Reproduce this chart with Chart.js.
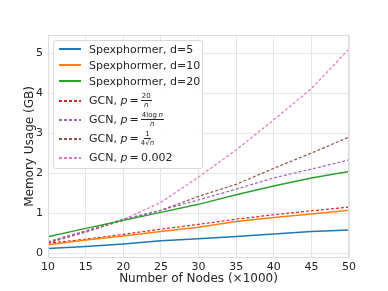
<!DOCTYPE html>
<html>
<head>
<meta charset="utf-8">
<script src="https://cdn.jsdelivr.net/npm/chart.js@4"></script>
<style>
  body { margin: 0; background: #fff; }
  #wrap { position: relative; width: 388px; height: 291px; }
  #legend {
    position: absolute; left: 53px; top: 40px; width: 148px;
    padding: 0 0 1px 0;
    border: 1px solid #d9d9d9; border-radius: 3px; background: rgba(255,255,255,0.85);
    font-family: "DejaVu Sans", sans-serif; font-size: 11px; color: #262626;
  }
  .row { display: flex; align-items: center; height: 16px; }
  .row.tall { height: 19px; }
  .row.first-tall { margin-top: 2px; }
  .swatch { width: 22px; height: 2px; margin: 0 8px 0 5px; }
  .frac { display: inline-flex; flex-direction: column; align-items: center; vertical-align: middle; font-size: 7px; line-height: 8px; margin-left: 2px; }
  .frac .num { border-bottom: 1px solid #262626; padding: 0 1px; }
  i { font-family: "DejaVu Sans", sans-serif; font-style: italic; }
</style>
</head>
<body>
<div id="wrap">
  <canvas id="chart" width="388" height="291"></canvas>
  <div id="legend"></div>
</div>
<script>
// x values (thousands of nodes)
const nodes = [10, 15, 20, 25, 30, 35, 40, 45, 50];

// memory usage in GB
const spexD5  = [0.12, 0.17, 0.23, 0.31, 0.36, 0.42, 0.48, 0.54, 0.58];
const spexD10 = [0.21, 0.33, 0.43, 0.54, 0.65, 0.79, 0.89, 0.98, 1.07];
const spexD20 = [0.41, 0.62, 0.82, 1.02, 1.22, 1.46, 1.68, 1.88, 2.04];
const gcnA = [0.25, 0.35, 0.47, 0.6, 0.72, 0.85, 0.96, 1.06, 1.15];
const gcnB = [0.29, 0.56, 0.85, 1.07, 1.33, 1.6, 1.88, 2.1, 2.33];
const gcnC = [0.27, 0.54, 0.82, 1.07, 1.42, 1.72, 2.12, 2.5, 2.9];
const gcnD = [0.25, 0.52, 0.84, 1.27, 1.9, 2.58, 3.33, 4.11, 5.1];

const xTicks = [10, 15, 20, 25, 30, 35, 40, 45, 50];
const yTicks = [0, 1, 2, 3, 4, 5];

const series = [
  { label: 'Spexphormer, d=5', html: 'Spexphormer, d=5', data: spexD5, color: '#1f77b4', dash: false },
  { label: 'Spexphormer, d=10', html: 'Spexphormer, d=10', data: spexD10, color: '#ff7f0e', dash: false },
  { label: 'Spexphormer, d=20', html: 'Spexphormer, d=20', data: spexD20, color: '#2ca02c', dash: false },
  { label: 'GCN, p=20/n', html: 'GCN, <i>p</i>&thinsp;=<span class="frac"><span class="num">20</span><span><i>n</i></span></span>', data: gcnA, color: '#d62728', dash: true },
  { label: 'GCN, p=4log n/n', html: 'GCN, <i>p</i>&thinsp;=<span class="frac"><span class="num">4log&thinsp;<i>n</i></span><span><i>n</i></span></span>', data: gcnB, color: '#9467bd', dash: true },
  { label: 'GCN, p=1/(4√n)', html: 'GCN, <i>p</i>&thinsp;=<span class="frac"><span class="num">1</span><span>4√<i>n</i></span></span>', data: gcnC, color: '#8c564b', dash: true },
  { label: 'GCN, p=0.002', html: 'GCN, <i>p</i>&thinsp;=&thinsp;0.002', data: gcnD, color: '#e377c2', dash: true }
];

const frame = {
  id: 'frame',
  afterDraw(chart) {
    const a = chart.chartArea;
    const c = chart.ctx;
    c.save();
    c.strokeStyle = '#dcdcdc';
    c.lineWidth = 1;
    c.strokeRect(a.left + 0.5, a.top + 0.5, a.right - a.left - 1, a.bottom - a.top - 1);
    c.restore();
  }
};

const font = { family: '"DejaVu Sans", sans-serif', size: 11 };

new Chart(document.getElementById('chart').getContext('2d'), {
  type: 'line',
  data: {
    datasets: series.map(s => ({
      label: s.label,
      data: s.data.map((v, i) => ({ x: nodes[i], y: v })),
      borderColor: s.color,
      borderWidth: s.dash ? 1.2 : 1.5,
      borderDash: s.dash ? [3, 2] : [],
      pointRadius: 0,
      tension: 0,
      fill: false
    }))
  },
  options: {
    responsive: false,
    animation: false,
    layout: { padding: { top: 35, right: 39, left: 0, bottom: 0 } },
    plugins: { legend: { display: false }, tooltip: { enabled: false } },
    scales: {
      x: {
        type: 'linear', min: 10, max: 50,
        afterBuildTicks: s => { s.ticks = xTicks.map(v => ({ value: v })); },
        afterFit: s => { s.height = 33; },
        grid: { color: '#e6e6e6', drawTicks: false },
        border: { display: false },
        ticks: { color: '#262626', font: font, padding: 3, maxRotation: 0 },
        title: { display: true, text: 'Number of Nodes (×1000)', color: '#262626', font: { family: font.family, size: 12 }, padding: { top: 0, bottom: 5 } }
      },
      y: {
        type: 'linear', min: -0.12, max: 5.45,
        afterBuildTicks: s => { s.ticks = yTicks.map(v => ({ value: v })); },
        afterFit: s => { s.width = 48; },
        grid: { color: '#e6e6e6', drawTicks: false },
        border: { display: false },
        ticks: { color: '#262626', font: font, padding: 5 },
        title: { display: true, text: 'Memory Usage (GB)', color: '#262626', font: { family: font.family, size: 12 }, padding: { top: 23, bottom: 0 } }
      }
    }
  },
  plugins: [frame]
});

// legend built from the series list
const legend = document.getElementById('legend');
let seenTall = false;
series.forEach(s => {
  const row = document.createElement('div');
  const tall = s.html.indexOf('frac') >= 0;
  row.className = 'row' + (tall ? ' tall' : '');
  if (tall && !seenTall) { row.className += ' first-tall'; seenTall = true; }
  if (!tall && seenTall) row.className += ' tall';
  const sw = document.createElement('span');
  sw.className = 'swatch';
  sw.style.background = s.dash
    ? `repeating-linear-gradient(to right, ${s.color} 0 3px, transparent 3px 5px)`
    : s.color;
  const txt = document.createElement('span');
  txt.innerHTML = s.html;
  row.appendChild(sw);
  row.appendChild(txt);
  legend.appendChild(row);
});
</script>
</body>
</html>
